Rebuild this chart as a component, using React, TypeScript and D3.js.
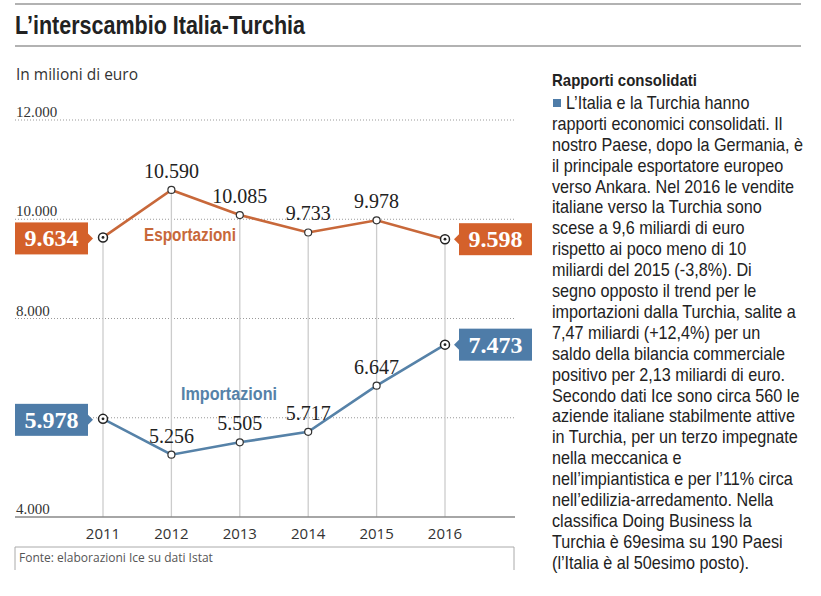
import React from "react";
import * as d3 from "d3";

const years = [2011, 2012, 2013, 2014, 2015, 2016];
const esportazioni = [9634, 10590, 10085, 9733, 9978, 9598];
const importazioni = [5978, 5256, 5505, 5717, 6647, 7473];
const yTicks = [4000, 6000, 8000, 10000, 12000];
const yTickLabels = [4000, 8000, 10000, 12000];
const bodyLines = [
  "L’Italia e la Turchia hanno",
  "rapporti economici consolidati. Il",
  "nostro Paese, dopo la Germania, è",
  "il principale esportatore europeo",
  "verso Ankara. Nel 2016 le vendite",
  "italiane verso la Turchia sono",
  "scese a 9,6 miliardi di euro",
  "rispetto ai poco meno di 10",
  "miliardi del 2015 (-3,8%). Di",
  "segno opposto il trend per le",
  "importazioni dalla Turchia, salite a",
  "7,47 miliardi (+12,4%) per un",
  "saldo della bilancia commerciale",
  "positivo per 2,13 miliardi di euro.",
  "Secondo dati Ice sono circa 560 le",
  "aziende italiane stabilmente attive",
  "in Turchia, per un terzo impegnate",
  "nella meccanica e",
  "nell’impiantistica e per l’11% circa",
  "nell’edilizia-arredamento. Nella",
  "classifica Doing Business la",
  "Turchia è 69esima su 190 Paesi",
  "(l’Italia è al 50esimo posto).",
];

const ORANGE_LINE = "#c8683a";
const ORANGE_BOX = "#d4612b";
const BLUE_LINE = "#5682a8";
const BLUE_BOX = "#4e7ca8";
const SANS = "'Liberation Sans', Arial, sans-serif";
const SERIF = "'Liberation Serif', 'DejaVu Serif', serif";
const SQUEEZE = 0.9;

const locale = d3.formatLocale({ decimal: ",", thousands: ".", grouping: [3], currency: ["€", ""] });
const fmt = locale.format(",d");

export default function App() {
  const W = 821, H = 596;
  const x = d3.scaleLinear().domain([2011, 2016]).range([103, 445]);
  const y = d3.scaleLinear().domain([4000, 12000]).range([517, 120]);
  const line = d3.line<number>().x((_, i) => x(years[i])).y((d) => y(d));

  const Box = ({ value, color, side }: { value: number; color: string; side: "left" | "right" }) => {
    const cy = side === "left" ? y(value) + 1 : y(value);
    const w = 73, h = 32;
    const bx = side === "left" ? 15 : 459;
    const tri = side === "left"
      ? `M${bx + w},${cy - 5} L${bx + w + 5},${cy} L${bx + w},${cy + 5} Z`
      : `M${bx},${cy - 5} L${bx - 5},${cy} L${bx},${cy + 5} Z`;
    return (
      <g>
        <rect x={bx} y={cy - h / 2} width={w} height={h} fill={color} />
        <path d={tri} fill={color} />
        <text x={bx + w / 2} y={cy + 8} textAnchor="middle" fill="#fff" fontFamily={SERIF} fontWeight="bold" fontSize={24}>
          {fmt(value)}
        </text>
      </g>
    );
  };

  const series = [
    { data: esportazioni, color: ORANGE_LINE, box: ORANGE_BOX },
    { data: importazioni, color: BLUE_LINE, box: BLUE_BOX },
  ];

  return (
    <svg width={W} height={H} style={{ position: "absolute", left: 0, top: 0, background: "#fff" }}>
      {/* title rules */}
      <line x1={15} x2={801} y1={4} y2={4} stroke="#999" strokeWidth={1.5} />
      <line x1={15} x2={801} y1={46} y2={46} stroke="#999" strokeWidth={1.5} />
      <text x={15} y={34} fontFamily={SANS} fontWeight="bold" fontSize={25} fill="#222" textLength={290} lengthAdjust="spacingAndGlyphs">
        L’interscambio Italia-Turchia
      </text>
      <text x={16} y={80} fontFamily="'Open Sans', sans-serif" fontSize={15.5} fill="#333">
        In milioni di euro
      </text>

      {/* gridlines */}
      {yTicks.filter((t) => t !== 4000).map((t) => (
        <line key={t} x1={15} x2={515} y1={y(t)} y2={y(t)} stroke="#999" strokeWidth={1} strokeDasharray="1,2" />
      ))}
      {yTickLabels.map((t) => (
        <text key={t} x={16} y={y(t) - 3} fontFamily={SERIF} fontSize={15} fill="#333">
          {fmt(t)}
        </text>
      ))}

      {/* vertical lines */}
      {years.map((yr, i) => (
        <line key={yr} x1={x(yr)} x2={x(yr)} y1={y(esportazioni[i]) + 4} y2={517} stroke="#ccc" strokeWidth={1.3} />
      ))}

      {/* baseline */}
      <line x1={15} x2={515} y1={517} y2={517} stroke="#888" strokeWidth={1.5} />
      {years.map((yr) => (
        <text key={yr} x={x(yr)} y={539} textAnchor="middle" fontFamily="'Open Sans', sans-serif" fontSize={15} fill="#333">
          {yr}
        </text>
      ))}

      {/* source box */}
      <path d="M15,570 L15,547 L514,547 L514,570" fill="none" stroke="#aaa" strokeWidth={1} />
      <text x={19} y={562} fontFamily="'Open Sans', sans-serif" fontSize={12} fill="#555">
        Fonte: elaborazioni Ice su dati Istat
      </text>

      {/* lines */}
      {series.map((s, si) => (
        <path key={si} d={line(s.data) || ""} fill="none" stroke={s.color} strokeWidth={2.6} />
      ))}

      {/* value labels */}
      {series.map((s, si) =>
        s.data.map((v, i) =>
          i > 0 && i < years.length - 1 ? (
            <text key={`${si}-${i}`} x={x(years[i])} y={y(v) - 12} textAnchor="middle" fontFamily={SERIF} fontSize={20} fill="#222">
              {fmt(v)}
            </text>
          ) : null
        )
      )}

      {/* markers */}
      {series.map((s, si) =>
        s.data.map((v, i) => {
          const end = i === 0 || i === years.length - 1;
          return end ? (
            <g key={`m${si}-${i}`}>
              <circle cx={x(years[i])} cy={y(v)} r={4.5} fill="#fff" stroke="#222" strokeWidth={1.5} />
              <circle cx={x(years[i])} cy={y(v)} r={1.4} fill="#222" />
            </g>
          ) : (
            <circle key={`m${si}-${i}`} cx={x(years[i])} cy={y(v)} r={3.5} fill="#fff" stroke="#333" strokeWidth={1.2} />
          );
        })
      )}

      {/* series names */}
      <text x={144} y={241} fontFamily={SANS} fontWeight="bold" fontSize={18} fill={ORANGE_LINE} textLength={92} lengthAdjust="spacingAndGlyphs">
        Esportazioni
      </text>
      <text x={181} y={400} fontFamily={SANS} fontWeight="bold" fontSize={18} fill={BLUE_LINE} textLength={96} lengthAdjust="spacingAndGlyphs">
        Importazioni
      </text>

      {/* boxes */}
      <Box value={esportazioni[0]} color={ORANGE_BOX} side="left" />
      <Box value={importazioni[0]} color={BLUE_BOX} side="left" />
      <Box value={esportazioni[5]} color={ORANGE_BOX} side="right" />
      <Box value={importazioni[5]} color={BLUE_BOX} side="right" />

      {/* right text */}
      <text x={552} y={86} fontFamily={SANS} fontWeight="bold" fontSize={17} fill="#222" textLength={145} lengthAdjust="spacingAndGlyphs">
        Rapporti consolidati
      </text>
      <rect x={553} y={99} width={8} height={8} fill={BLUE_BOX} />
      <g transform={`translate(552,0) scale(${SQUEEZE},1)`}>
        {bodyLines.map((l, i) => (
          <text key={i} x={i === 0 ? 14 / SQUEEZE : 0} y={109 + i * 20.9} fontFamily={SANS} fontSize={18} fill="#222">
            {l}
          </text>
        ))}
      </g>
    </svg>
  );
}
